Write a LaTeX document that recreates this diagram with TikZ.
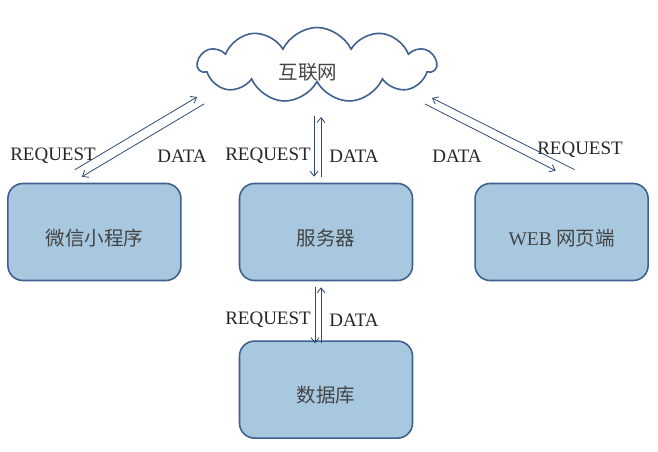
\documentclass[tikz,border=0pt]{standalone}
\usepackage{fontspec}
\setmainfont{Liberation Serif}
\newfontfamily\cjk{Noto Sans CJK SC}
\usetikzlibrary{shapes.symbols,arrows.meta,positioning,calc}
\definecolor{boxfill}{HTML}{A8C8E0}
\definecolor{boxline}{HTML}{3F6190}
\definecolor{arrowline}{HTML}{2E4A72}
\definecolor{cjktext}{HTML}{444444}

\begin{document}
\begin{tikzpicture}[x=1pt, y=-1pt, node distance=59pt,
	box/.style={rectangle, rounded corners=15pt, minimum width=173pt, minimum height=97pt, draw=boxline, fill=boxfill, line width=1.6pt, font=\cjk\fontsize{19.5}{22}\selectfont, text=cjktext},
	cloudy/.style={cloud, cloud puffs=11, cloud puff arc=130, aspect=3.2, minimum width=238pt, minimum height=75pt, draw=boxline, line width=1.6pt, font=\cjk\fontsize{19.5}{22}\selectfont, text=cjktext},
	msg/.style={font=\fontsize{19}{22}\selectfont, text=black!85, inner sep=0pt},
	link/.style={draw=arrowline, line width=0.8pt, -{Straight Barb[length=5pt, width=8pt]}}]
	\useasboundingbox (0,0) rectangle (658,452);

	\node[cloudy] (net) at (317,65) {\raisebox{-7pt}[\height][\depth]{\hspace{-18pt}互联网}};
	\node[box] (srv) at (326,232) {\raisebox{-6pt}[\height][\depth]{服务器}};
	\node[box] (app) [left=57pt of srv]  {\raisebox{-6pt}[\height][\depth]{微信小程序}};
	\node[box] (web) [right=61pt of srv] {\raisebox{-6pt}[\height][\depth]{{\fontspec{Liberation Serif}WEB} 网页端}};
	\node[box] (db)  [below=of srv] {\raisebox{-6pt}[\height][\depth]{数据库}};

	% text on the links
	\node[msg] (req1) at (53,156)  {REQUEST};
	\node[msg] (dat1) at (182,156) {DATA};
	\node[msg] (req2) at (268,156) {REQUEST};
	\node[msg] (dat2) at (354,156) {DATA};
	\node[msg] (dat3) at (457,156) {DATA};
	\node[msg] (req3) at (580,150) {REQUEST};
	\node[msg] (req4) at (268,320) {REQUEST};
	\node[msg] (dat4) at (354,320) {DATA};

	% app <-> internet
	\draw[link] ($(app.north)+(-19.5,-13)$) -- ($(net.center)+(-120,32)$);
	\draw[link] ($(net.center)+(-113,39)$) -- ($(app.north)+(-12.5,-6)$);
	% web <-> internet
	\draw[link] ($(web.north)+(13,-13)$) -- ($(net.center)+(115,33)$);
	\draw[link] ($(net.center)+(108,39)$) -- ($(web.north)+(-6,-12)$);
	% server <-> internet
	\draw[link] ($(net.center)+(-3,51)$) -- ($(srv.north)+(-12,-6)$);
	\draw[link] ($(srv.north)+(-5,-6)$) -- ($(net.center)+(4,52)$);
	% server <-> database
	\draw[link] ($(srv.south)+(-11,6)$) -- ($(db.north)+(-11,3)$);
	\draw[link] ($(db.north)+(-5,3)$) -- ($(srv.south)+(-5,6)$);
\end{tikzpicture}
\end{document}
